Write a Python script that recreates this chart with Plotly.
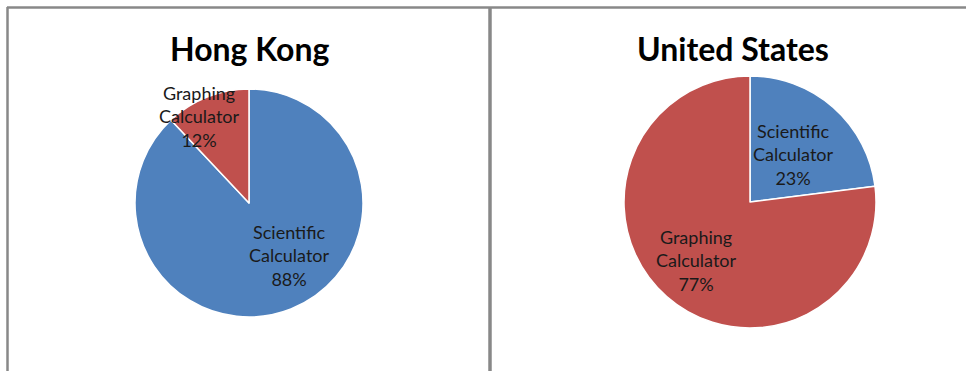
import plotly.graph_objects as go

W, H = 966, 371

# Calculator type share by region
regions = ["Hong Kong", "United States"]
categories = ["Scientific Calculator", "Graphing Calculator"]
shares = {
    "Hong Kong": [88, 12],
    "United States": [23, 77],
}
colors = ["#4F81BD", "#C0504D"]

# pie centre (px from top-left) and radius for each panel
pie_geom = {
    "Hong Kong": (249, 203, 114),
    "United States": (750, 202, 126),
}
title_pos = {
    "Hong Kong": (249, 48),
    "United States": (733, 48),
}
# label centres (px) per region, one per category
label_pos = {
    "Hong Kong": [(289, 255), (199, 116)],
    "United States": [(793, 154), (696, 260)],
}

FONT = "Lato"

fig = go.Figure()
annotations = []
for reg in regions:
    cx, cy, r = pie_geom[reg]
    fig.add_trace(go.Pie(
        labels=categories,
        values=shares[reg],
        sort=False,
        direction="clockwise",
        rotation=0,
        marker=dict(colors=colors, line=dict(color="white", width=1.5)),
        textinfo="none",
        hoverinfo="label+percent",
        showlegend=False,
        domain=dict(x=[(cx - r) / W, (cx + r) / W],
                    y=[(H - cy - r) / H, (H - cy + r) / H]),
    ))
    tx, ty = title_pos[reg]
    annotations.append(dict(
        text=f"<b>{reg}</b>", x=tx / W, y=1 - ty / H,
        xref="paper", yref="paper", showarrow=False,
        xanchor="center", yanchor="middle",
        font=dict(family=FONT, size=32, color="#000000"),
    ))
    for cat, val, (lx, ly) in zip(categories, shares[reg], label_pos[reg]):
        text = "<br>".join(cat.split(" ")) + f"<br>{val}%"
        annotations.append(dict(
            text=text, x=lx / W, y=1 - ly / H,
            xref="paper", yref="paper", showarrow=False,
            xanchor="center", yanchor="middle", align="center",
            font=dict(family=FONT, size=18, color="#1a1a1a"),
        ))

border = "#888888"
shapes = [
    dict(type="line", xref="paper", yref="paper",
         x0=7 / W, x1=1, y0=1 - 7.5 / H, y1=1 - 7.5 / H,
         line=dict(color=border, width=2.5)),
    dict(type="line", xref="paper", yref="paper",
         x0=7.5 / W, x1=7.5 / W, y0=0, y1=1 - 7 / H,
         line=dict(color=border, width=2.5)),
    dict(type="line", xref="paper", yref="paper",
         x0=490 / W, x1=490 / W, y0=0, y1=1 - 7 / H,
         line=dict(color=border, width=3.5)),
]

fig.update_layout(
    width=W, height=H,
    margin=dict(l=0, r=0, t=0, b=0),
    paper_bgcolor="white",
    plot_bgcolor="white",
    annotations=annotations,
    shapes=shapes,
)

fig.write_html("out.html")
